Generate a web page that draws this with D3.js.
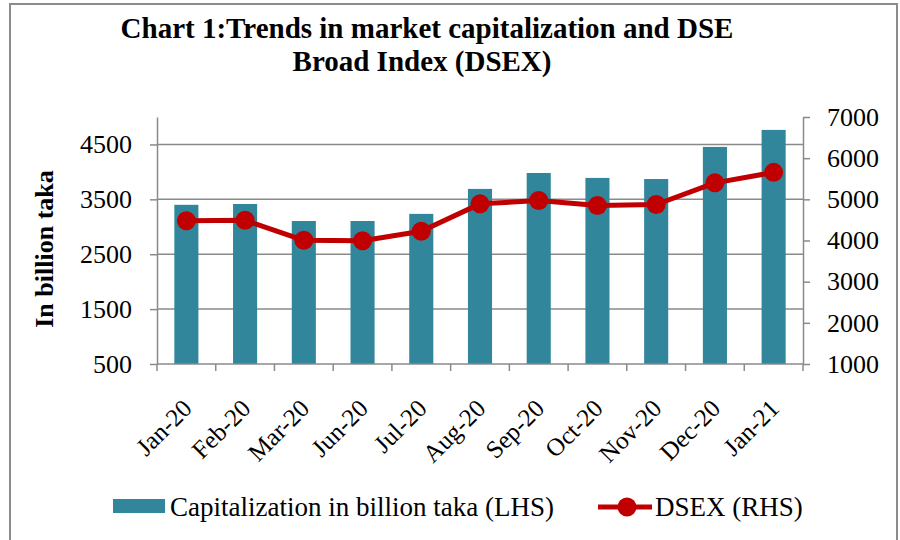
<!DOCTYPE html>
<html>
<head>
<meta charset="utf-8">
<script src="https://cdn.jsdelivr.net/npm/d3@7"></script>
<style>
  body { margin: 0; background: #fff; }
  svg text { font-family: "Liberation Serif", "Times New Roman", serif; fill: #000; }
</style>
</head>
<body>
<div id="chart"></div>
<script>
const months = ["Jan-20", "Feb-20", "Mar-20", "Jun-20", "Jul-20", "Aug-20", "Sep-20", "Oct-20", "Nov-20", "Dec-20", "Jan-21"];
const capitalization = [3400, 3415, 3105, 3105, 3235, 3690, 3980, 3890, 3870, 4455, 4765];
const dsex = [4480, 4490, 4005, 3995, 4225, 4890, 4970, 4850, 4875, 5400, 5655];
const leftTicks = [500, 1500, 2500, 3500, 4500];
const rightTicks = [1000, 2000, 3000, 4000, 5000, 6000, 7000];

const W = 900, H = 540;
const m = { left: 157, right: 803, top: 117, bottom: 364 };
const barColor = "#31869b", lineColor = "#c00000", gridColor = "#8a8a8a";

const svg = d3.select("#chart").append("svg").attr("width", W).attr("height", H);

// outer frame
svg.append("rect").attr("x", 10).attr("y", 4).attr("width", 887).attr("height", 560)
  .attr("fill", "none").attr("stroke", "#8c8c8c").attr("stroke-width", 2);

// title
const title = svg.append("text").attr("text-anchor", "middle").attr("font-weight", "bold").attr("font-size", 29);
title.append("tspan").attr("x", 427).attr("y", 38).text("Chart 1:Trends in market capitalization and DSE");
title.append("tspan").attr("x", 422).attr("y", 71).text("Broad Index (DSEX)");

const x = d3.scaleBand().domain(months).range([m.left, m.right]).paddingInner(0.59).paddingOuter(0.295);
const yL = d3.scaleLinear().domain([500, 5000]).range([m.bottom, m.top]);
const yR = d3.scaleLinear().domain([1000, 7000]).range([m.bottom, m.top]);

// gridlines
svg.append("g").selectAll("line").data(leftTicks.slice(1)).join("line")
  .attr("x1", m.left).attr("x2", m.right)
  .attr("y1", d => yL(d)).attr("y2", d => yL(d))
  .attr("stroke", gridColor).attr("stroke-width", 1.5);

// bars
svg.append("g").selectAll("rect").data(months).join("rect")
  .attr("x", d => x(d)).attr("width", x.bandwidth())
  .attr("y", (d, i) => yL(capitalization[i]))
  .attr("height", (d, i) => yL(500) - yL(capitalization[i]))
  .attr("fill", barColor);

// left axis
const gl = svg.append("g").attr("transform", `translate(${m.left},0)`)
  .call(d3.axisLeft(yL).tickValues(leftTicks).tickFormat(d3.format("d"))
    .tickSize(7).tickPadding(18).tickSizeOuter(0));
gl.select(".domain").attr("stroke", gridColor).attr("stroke-width", 1.5);
gl.selectAll(".tick line").attr("stroke", gridColor).attr("stroke-width", 1.5);
gl.selectAll(".tick text").attr("font-size", 26).attr("font-family", "Liberation Serif, serif").attr("fill", "#000");

// right axis
const gr = svg.append("g").attr("transform", `translate(${m.right},0)`)
  .call(d3.axisRight(yR).tickValues(rightTicks).tickFormat(d3.format("d"))
    .tickSize(7).tickPadding(17).tickSizeOuter(0));
gr.select(".domain").attr("stroke", gridColor).attr("stroke-width", 1.5);
gr.selectAll(".tick line").attr("stroke", gridColor).attr("stroke-width", 1.5);
gr.selectAll(".tick text").attr("font-size", 26).attr("font-family", "Liberation Serif, serif").attr("fill", "#000");

// x axis baseline and category tick marks
const step = x.step();
svg.append("line").attr("x1", m.left).attr("x2", m.right).attr("y1", m.bottom).attr("y2", m.bottom)
  .attr("stroke", gridColor).attr("stroke-width", 1.5);
svg.append("g").selectAll("line").data(d3.range(months.length + 1)).join("line")
  .attr("x1", i => m.left + i * step).attr("x2", i => m.left + i * step)
  .attr("y1", m.bottom).attr("y2", m.bottom + 7)
  .attr("stroke", gridColor).attr("stroke-width", 1.5);

svg.append("g").selectAll("text").data(months).join("text")
  .attr("transform", d => `translate(${x(d) + x.bandwidth() / 2 + 7},${m.bottom + 46}) rotate(-45)`)
  .attr("text-anchor", "end").attr("font-size", 25)
  .text(d => d);

// y axis title
svg.append("text").attr("transform", "translate(53,249) rotate(-90)")
  .attr("text-anchor", "middle").attr("font-size", 26).attr("font-weight", "bold")
  .text("In billion taka");

// DSEX line
const cx = d => x(d) + x.bandwidth() / 2;
svg.append("path").datum(months)
  .attr("d", d3.line().x(cx).y((d, i) => yR(dsex[i])))
  .attr("fill", "none").attr("stroke", lineColor).attr("stroke-width", 5).attr("stroke-linejoin", "round");
svg.append("g").selectAll("circle").data(months).join("circle")
  .attr("cx", cx).attr("cy", (d, i) => yR(dsex[i])).attr("r", 9.5)
  .attr("fill", lineColor);

// legend
const lg = svg.append("g");
lg.append("rect").attr("x", 113).attr("y", 499).attr("width", 52).attr("height", 14).attr("fill", barColor);
lg.append("text").attr("x", 170).attr("y", 516).attr("font-size", 27).text("Capitalization in billion taka (LHS)");
lg.append("line").attr("x1", 598).attr("x2", 652).attr("y1", 507).attr("y2", 507)
  .attr("stroke", lineColor).attr("stroke-width", 5);
lg.append("circle").attr("cx", 627).attr("cy", 507).attr("r", 9.5).attr("fill", lineColor);
lg.append("text").attr("x", 655).attr("y", 516).attr("font-size", 27).text("DSEX (RHS)");
</script>
</body>
</html>
